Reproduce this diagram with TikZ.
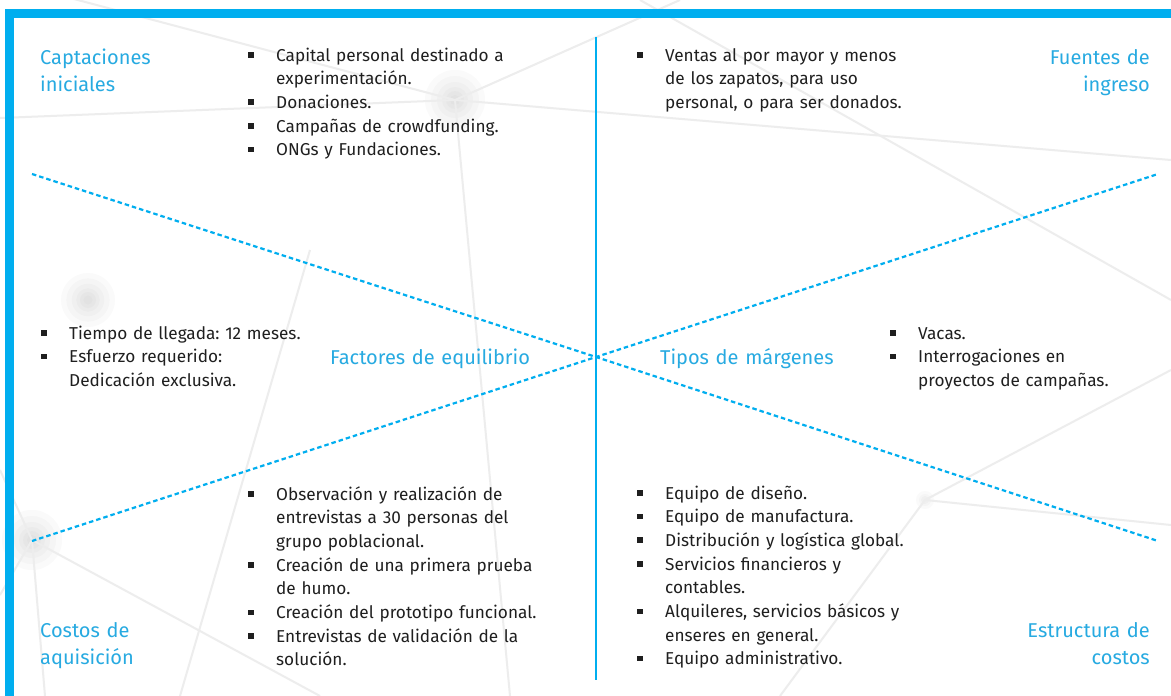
\documentclass[tikz,border=0pt]{standalone}
\usepackage{fontspec}
\setmainfont{Fira Sans}
\frenchspacing
\definecolor{cy}{HTML}{00AEEF}
\definecolor{cytxt}{HTML}{27AAE1}
\definecolor{bgl}{HTML}{EDEDED}
\newcommand\blt{\makebox[28pt][l]{\rule[0.2em]{5.5pt}{5.5pt}}}
\newcommand\ind{\hspace*{28pt}}
\begin{document}
\begin{tikzpicture}[x=1pt,y=-1pt,
  heading/.style={font=\fontsize{20}{27}\selectfont, text=cytxt, inner sep=0pt, text width=220pt, align=left, anchor=base west},
  headingr/.style={font=\fontsize{20}{27}\selectfont, text=cytxt, inner sep=0pt, text width=220pt, align=right, anchor=base east},
  lst/.style={font=\fontsize{17.2}{23.7}\selectfont\frenchspacing, text=black!88, inner sep=0pt, text width=360pt, align=left, anchor=base west},
  bgline/.style={draw=bgl, line width=2pt},
  glow/.style={fill=gray, opacity=0.04},
  divider/.style={draw=cy, line width=2.2pt},
  diag/.style={draw=cy, line width=2.2pt, dash pattern=on 4.5pt off 3pt}]
\useasboundingbox (0,0) rectangle (1171,696);
\fill[white] (0,0) rectangle (1171,696);
% faint background network
\coordinate (g1) at (455,100);
\coordinate (g2) at (32,540);
\coordinate (g3) at (925,500);
\coordinate (g4) at (88,300);
\foreach \r in {30,24,18,13,9,5} {
  \fill[glow] (g1) circle (\r);
  \fill[glow] (g2) circle (\r);
  \fill[glow] (g4) circle (\r*0.9);
}
\foreach \r in {9,6,4} {\fill[glow] (g3) circle (\r);}
\draw[bgline] (40,-10) -- (g1);
\draw[bgline] (0,118) -- (g1);
\draw[bgline] (g1) -- (510,696);
\draw[bgline] (g1) -- (1171,160);
\draw[bgline] (g1) -- (680,0);
\draw[bgline] (g2) -- (320,696);
\draw[bgline] (g2) -- (45,696);
\draw[bgline] (g2) -- (0,595);
\draw[bgline] (g2) -- (0,470);
\draw[bgline] (g3) -- (1171,525);
\draw[bgline] (g3) -- (780,696);
\draw[bgline] (g3) -- (1171,370);
\draw[bgline] (310,250) -- (180,696);
\draw[bgline] (640,0) -- (1171,300);
% frame
\fill[cy] (5,9) rectangle (14,696);
\fill[cy] (5,9) rectangle (1171,18);
% dividers
\coordinate (ctop) at (596,37);
\coordinate (cbot) at (596,680);
\coordinate (ctr) at (596,357);
\coordinate (ul) at (32,174);
\coordinate (lr) at (1158,541);
\coordinate (ll) at (32,541);
\coordinate (ur) at (1158,174);
\draw[divider] (ctop) -- (cbot);
\draw[diag] (ul) -- (ctr) -- (lr);
\draw[diag] (ll) -- (ctr) -- (ur);
% headings
\node[heading] (h1) at (40,64) {Captaciones\\iniciales};
\node[headingr] (h2) at (1150,64) {Fuentes de\\ingreso};
\node[heading] (h3) at (40,637) {Costos de\\aquisición};
\node[headingr] (h4) at (1150,637) {Estructura de\\costos};
\node[heading] (h5) at (330,364) {Factores de equilibrio};
\node[heading] (h6) at (660,364) {Tipos de márgenes};
% lists
\node[lst] (l1) at (248,61) {\blt Capital personal destinado a\\ \ind experimentación.\\ \blt Donaciones.\\ \blt Campañas de crowdfunding.\\ \blt ONGs y Fundaciones.};
\node[lst] (l2) at (637,61) {\blt Ventas al por mayor y menos\\ \ind de los zapatos, para uso\\ \ind personal, o para ser donados.};
\node[lst] (l3) at (41,339) {\blt Tiempo de llegada: 12 meses.\\ \blt Esfuerzo requerido:\\ \ind Dedicación exclusiva.};
\node[lst] (l4) at (890,339) {\blt Vacas.\\ \blt Interrogaciones en\\ \ind proyectos de campañas.};
\node[lst] (l5) at (248,500) {\blt Observación y realización de\\ \ind entrevistas a 30 personas del\\ \ind grupo poblacional.\\ \blt Creación de una primera prueba\\ \ind de humo.\\ \blt Creación del prototipo funcional.\\ \blt Entrevistas de validación de la\\ \ind solución.};
\node[lst] (l6) at (637,499) {\blt Equipo de diseño.\\ \blt Equipo de manufactura.\\ \blt Distribución y logística global.\\ \blt Servicios financieros y\\ \ind contables.\\ \blt Alquileres, servicios básicos y\\ \ind enseres en general.\\ \blt Equipo administrativo.};
\end{tikzpicture}
\end{document}
